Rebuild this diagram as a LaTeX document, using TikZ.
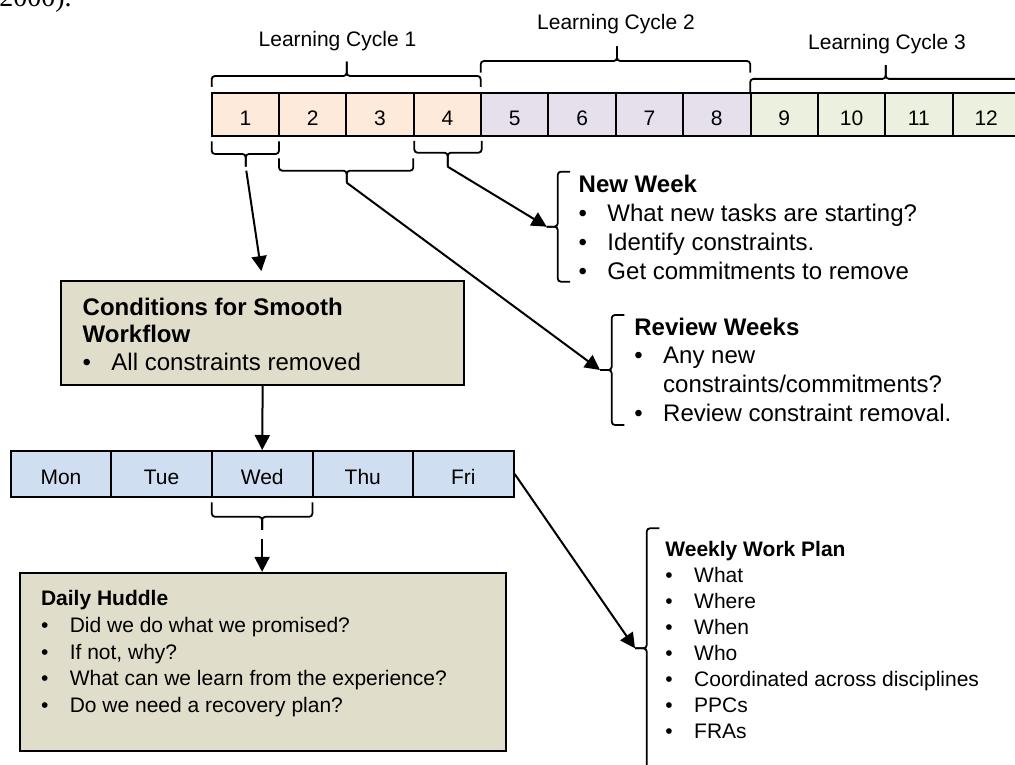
\documentclass[tikz,border=0pt]{standalone}
\usepackage{fontspec}
\setmainfont{Liberation Sans}
\newfontfamily\serifx{Liberation Serif}
\usetikzlibrary{arrows.meta}
\definecolor{peach}{HTML}{FDEADA}
\definecolor{lav}{HTML}{E5E0EC}
\definecolor{lgreen}{HTML}{EBF1DE}
\definecolor{dayblue}{HTML}{CFDEF0}
\definecolor{boxtan}{HTML}{E0DDCA}
\newcommand\bul[1]{\makebox[14.4pt][l]{•}#1}
\newcommand\lowtxt[2][5.9pt]{\raisebox{-#1}[0pt][0pt]{#2}}
\begin{document}
\begin{tikzpicture}[x=0.5pt,y=-0.5pt,
  cellbox/.style={draw=black, line width=1pt, minimum width=33.675pt, minimum height=21.5pt, inner sep=0pt, font=\fontsize{10.5}{12.6}\selectfont},
  daybox/.style={draw=black, line width=1pt, fill=dayblue, minimum width=50.3pt, minimum height=23pt, inner sep=0pt, font=\fontsize{10.5}{12.6}\selectfont},
  infobox/.style={draw=black, line width=1pt, fill=boxtan, inner sep=0pt},
  bracepath/.style={line width=0.9pt, rounded corners=1.6pt},
  arr/.style={line width=1pt, -{Triangle[length=7.5pt,width=7.5pt]}},
  cyclelbl/.style={font=\fontsize{10.5}{12.6}\selectfont, anchor=base, inner sep=0pt},
  txtblk/.style={anchor=base west, inner sep=0pt}
]
\useasboundingbox (0,0) rectangle (1015,764);
\clip (0,0) rectangle (1015,764);

% partial text from preceding paragraph
\node[anchor=base east, inner sep=0pt, font=\serifx\fontsize{14}{16}\selectfont] (prev) at (72,7) {2000).};

% week cells
\foreach \i/\col in {1/peach,2/peach,3/peach,4/peach,5/lav,6/lav,7/lav,8/lav,9/lgreen,10/lgreen,11/lgreen,12/lgreen}
  \node[cellbox, fill=\col] (c\i) at ({211.7+67.35*(\i-0.5)},114.2) {\lowtxt{\i}};

% learning cycle labels
\node[cyclelbl] (lc1) at (337.5,46.7) {Learning Cycle 1};
\node[cyclelbl] (lc2) at (616,29.1) {Learning Cycle 2};
\node[cyclelbl] (lc3) at (887,49.7) {Learning Cycle 3};

% top braces
\draw[bracepath] (211.7,87) -- (211.7,76) -- (346.7,76) -- (346.7,61.7);
\draw[bracepath] (480.7,87) -- (480.7,76) -- (346.7,76) -- (346.7,61.7);
\draw[bracepath] (480.7,72.7) -- (480.7,61) -- (617,61) -- (617,46.3);
\draw[bracepath] (750.2,72.7) -- (750.2,61) -- (617,61) -- (617,46.3);
\draw[bracepath] (750.2,92) -- (750.2,78.9) -- (885.7,78.9) -- (885.7,65.2);
\draw[bracepath] (1021,92) -- (1021,78.9) -- (885.7,78.9) -- (885.7,65.2);

% bottom braces
\draw[bracepath] (211.7,141.5) -- (211.7,154) -- (245.7,154) -- (245.7,166.7);
\draw[bracepath] (279,141.5) -- (279,154) -- (245.7,154) -- (245.7,166.7);
\coordinate (tA) at (245.7,166.7);
\draw[bracepath] (279,158.3) -- (279,170.7) -- (346.7,170.7) -- (346.7,182.7);
\draw[bracepath] (413.3,158.3) -- (413.3,170.7) -- (346.7,170.7) -- (346.7,182.7);
\coordinate (tB) at (346.7,182.7);
\draw[bracepath] (414.3,141) -- (414.3,152.7) -- (447.7,152.7) -- (447.7,166.7);
\draw[bracepath] (481.7,141) -- (481.7,152.7) -- (447.7,152.7) -- (447.7,166.7);
\coordinate (tC) at (447.7,166.7);

% left braces
\draw[bracepath] (570,171.7) -- (557.7,171.7) -- (557.7,226.7) -- (546.7,226.7);
\draw[bracepath] (570,281.7) -- (557.7,281.7) -- (557.7,226.7) -- (546.7,226.7);
\coordinate (tNW) at (546.7,226.7);
\draw[bracepath] (624.3,315) -- (611.7,315) -- (611.7,370) -- (600,370);
\draw[bracepath] (624.3,425) -- (611.7,425) -- (611.7,370) -- (600,370);
\coordinate (tRW) at (600,370);
\draw[bracepath] (659.3,528.3) -- (646.7,528.3) -- (646.7,648.3) -- (635,648.3);
\draw[bracepath] (659.3,768.3) -- (646.7,768.3) -- (646.7,648.3) -- (635,648.3);
\coordinate (tWW) at (635,648.3);

% text blocks
\node[txtblk, font=\fontsize{12}{14.4}\selectfont] (nwtxt) at (578.3,192.7) {\begin{tabular}[t]{@{}l@{}}
\textbf{New Week}\\
\bul{What new tasks are starting?}\\
\bul{Identify constraints.}\\
\bul{Get commitments to remove}
\end{tabular}};
\node[txtblk, font=\fontsize{12}{14.45}\selectfont] (rwtxt) at (634,335) {\begin{tabular}[t]{@{}l@{}}
\textbf{Review Weeks}\\
\bul{Any new}\\
\hspace*{14.4pt}constraints/commitments?\\
\bul{Review constraint removal.}
\end{tabular}};

% conditions box
\node[infobox, minimum width=201.65pt, minimum height=52pt] (cond) at (262.65,333) {};
\node[txtblk, font=\fontsize{12}{13.9}\selectfont] (condtxt) at (82.3,315) {\begin{tabular}[t]{@{}l@{}}
\textbf{Conditions for Smooth}\\
\textbf{Workflow}\\
\bul{All constraints removed}
\end{tabular}};

% days
\foreach \k/\d in {1/Mon,2/Tue,3/Wed,4/Thu,5/Fri}
  \node[daybox] (d\k) at ({10.7+100.6*(\k-0.5)},474) {\lowtxt[5.25pt]{\d}};

% Wed brace
\draw[bracepath] (211.8,502.3) -- (211.8,516.8) -- (262.1,516.8) -- (262.1,529.8);
\draw[bracepath] (312.4,502.3) -- (312.4,516.8) -- (262.1,516.8) -- (262.1,529.8);
\coordinate (tW) at (262.1,529.8);

% daily huddle box
\node[infobox, minimum width=243.4pt, minimum height=89.2pt] (huddle) at (263,662.1) {};
\node[txtblk, font=\fontsize{10.5}{13.35}\selectfont] (hudtxt) at (40.6,605.6) {\begin{tabular}[t]{@{}l@{}}
\textbf{Daily Huddle}\\
\bul{Did we do what we promised?}\\
\bul{If not, why?}\\
\bul{What can we learn from the experience?}\\
\bul{Do we need a recovery plan?}
\end{tabular}};

% weekly work plan
\node[txtblk, font=\fontsize{10.5}{13}\selectfont] (wwtxt) at (665,556) {\begin{tabular}[t]{@{}l@{}}
\textbf{Weekly Work Plan}\\
\bul{What}\\
\bul{Where}\\
\bul{When}\\
\bul{Who}\\
\bul{Coordinated across disciplines}\\
\bul{PPCs}\\
\bul{FRAs}
\end{tabular}};

% connectors
\draw[arr, shorten <=2pt, shorten >=4.5pt] (tA) -- (cond.north);
\draw[arr] (cond.south) -- (d3.north);
\draw[arr, shorten <=4.4pt] (tW) -- (tW |- huddle.north);
\draw[arr] (tB) -- (tRW);
\draw[arr] (tC) -- (tNW);
\draw[arr] (d5.east) -- (tWW);
\end{tikzpicture}
\end{document}
